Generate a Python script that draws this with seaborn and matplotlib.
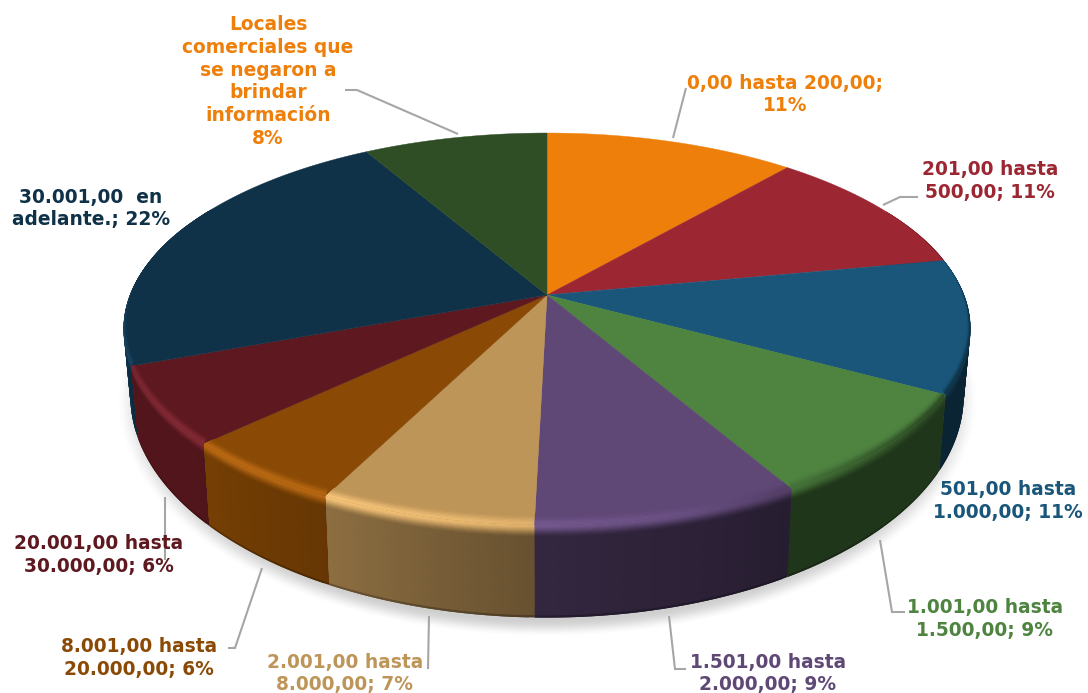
import numpy as np
import matplotlib
matplotlib.use('Agg')
import matplotlib.pyplot as plt
from matplotlib.collections import PolyCollection
from matplotlib.patches import Polygon
import seaborn as sns

categorias = ['0,00 hasta 200,00;\n11%',
              '201,00 hasta\n500,00; 11%',
              '501,00 hasta\n1.000,00; 11%',
              '1.001,00 hasta\n1.500,00; 9%',
              '1.501,00 hasta\n2.000,00; 9%',
              '2.001,00 hasta\n8.000,00; 7%',
              '8.001,00 hasta\n20.000,00; 6%',
              '20.001,00 hasta\n30.000,00; 6%',
              '30.001,00  en\nadelante.; 22%',
              'Locales\ncomerciales que\nse negaron a\nbrindar\ninformación\n8%']
valores = [11.3, 10.7, 11.0, 8.7, 8.7, 7.0, 5.5, 6.4, 22.4, 8.3]
colores = ['#EE7F0A', '#9C2733', '#1A567A', '#4E8340', '#5F4776',
           '#BE9558', '#8A4A05', '#5E1820', '#0F3248', '#2F4E25']
colores_texto = colores[:9] + ['#EE7F0A']

# posicion de cada etiqueta y de su linea guia (en pixeles)
pos_texto = [(785, 94.5), (990, 181), (1008, 501), (985, 619), (768, 673.5),
             (345, 673.5), (139, 658), (99, 555), (91, 208.5), (268, 81.5)]
guias = [[(673, 138), (686, 88)],
         [(883, 205), (900, 197), (918, 197)],
         [],
         [(880, 540), (892, 612), (905, 612)],
         [(669, 616), (675, 669), (686, 669)],
         [(429, 616), (428, 669)],
         [(262, 568), (235, 648), (228, 648)],
         [(164.5, 497), (164.5, 560)],
         [],
         [(458, 134), (357, 90), (345, 90)]]

CX, CY = 547, 295
R, A, K = 417, 190, 0.173

sns.set_theme(style='white')
plt.rcParams['font.family'] = ['DejaVu Sans']
paleta = sns.color_palette(colores)


def arriba(th, r=1.0):
    d = 1 + K * r * np.cos(th)
    return CX + R * r * np.sin(th) / d, CY - A * r * np.cos(th) / d


def abajo(th):
    x, y = arriba(th)
    dy = y - CY
    return CX + 0.984 * (x - CX), y + 63 + 0.13 * dy


ang_g = np.radians([62, 90, 270, 298])
val_g = [0, 1, 1, 0]


def borde(th, u):
    # u<0: bisel sobre la cara superior, u>=0: bajando por la pared
    if u < 0:
        u = u * np.interp(th, ang_g, val_g)
    x0, y0 = arriba(th, 1 + min(u, 0) * 0.12)
    x1, y1 = abajo(th)
    return x0 + u * (x1 - x0), y0 + u * (y1 - y0)


def tiras(i, perfil):
    # cuadros solapados, de abajo hacia arriba, para que no se vean costuras
    a0, a1 = limites[i], limites[i + 1]
    n = max(2, int(np.degrees(a1 - a0) * 1.5))
    tt = np.linspace(a0, a1, n + 1)
    polys, cols = [], []
    for k in range(len(perfil) - 2, -1, -1):
        u0 = perfil[max(k - 1, 0)]
        u1 = perfil[k + 1]
        um = (perfil[k] + perfil[k + 1]) / 2
        for j in range(n):
            th0, th1 = tt[j], tt[min(j + 2, n)]
            if np.degrees(tt[j + 1]) < 62 or np.degrees(th0) > 298:
                continue
            polys.append([borde(th0, u0), borde(th1, u0), borde(th1, u1), borde(th0, u1)])
            cols.append(np.clip(color_rim(i, (tt[j] + tt[j + 1]) / 2, um), 0, 1))
    return polys, cols


ang_f = np.radians([60, 95, 150, 181, 208, 230, 252, 262, 300])
fac_f = [0.40, 0.42, 0.41, 0.54, 0.75, 0.87, 0.88, 1.15, 1.15]
ang_o = np.radians([62, 85, 125, 165])
osc_o = [0.0, 0.75, 0.75, 0.0]


def color_rim(i, th, u):
    base = np.array(paleta[i])
    pared = base * np.interp(th, ang_f, fac_f)
    # brillo mas fuerte abajo a la izquierda
    luz = max(0.0, np.cos(th - np.radians(222))) ** 2
    brillo = base * (1 + 0.26 * luz) + 0.05 * luz
    w = np.interp(th, ang_o, osc_o)
    arista = brillo * (1 - w) + pared * w
    if u < 0:
        t = (u + 0.08) / 0.08
        return base + (arista - base) * t * t * (3 - 2 * t)
    if u < 0.14:
        t = u / 0.14
        return arista + (pared - arista) * t * t * (3 - 2 * t)
    if u > 0.975:
        return pared * 0.75
    return pared


fig = plt.figure(figsize=(10.88, 6.93), dpi=100)
ax = fig.add_axes([0, 0, 1, 1])

limites = np.cumsum([0] + valores) / np.sum(valores) * 2 * np.pi

# sombra difusa
gx, gy = np.meshgrid(np.arange(100, 1000), np.arange(300, 660))
rho = np.sqrt(((gx - 547) / 432) ** 2 + ((gy - 400) / 237) ** 2)
sombra = np.zeros(gx.shape + (4,))
s = np.clip((1.0 - rho) / 0.075, 0, 1)
sombra[..., 3] = 0.19 * s * s * (3 - 2 * s)
ax.imshow(sombra, extent=(100, 1000, 660, 300), aspect='auto', zorder=0, interpolation='bilinear')
ax.set_xlim(0, 1088)
ax.set_ylim(693, 0)
ax.axis('off')

perfil_pared = list(np.linspace(0, 0.14, 15)) + [0.3, 0.5, 0.7, 0.9, 0.975, 1.0]
perfil_bisel = list(np.linspace(-0.08, 0, 9))

# paredes de atras hacia adelante
orden = np.argsort([abs((limites[i] + limites[i + 1]) / 2 - np.pi) for i in range(len(valores))])[::-1]
for i in orden:
    polys, cols = tiras(i, perfil_pared)
    if polys:
        ax.add_collection(PolyCollection(polys, facecolors=cols, edgecolors='none', zorder=1))

# cara superior
for i in range(len(valores)):
    tt = np.linspace(limites[i], limites[i + 1], 80)
    x, y = arriba(tt)
    ax.fill(np.r_[CX, x], np.r_[CY, y], color=paleta[i], lw=0.3, ec=paleta[i], zorder=2)

# bisel encima de la cara, recortado a su porcion
for i in range(len(valores)):
    polys, cols = tiras(i, perfil_bisel)
    if polys:
        tt = np.linspace(limites[i], limites[i + 1], 80)
        x, y = arriba(tt, 1.04)
        recorte = Polygon(np.c_[np.r_[CX, x], np.r_[CY, y]], transform=ax.transData)
        col = PolyCollection(polys, facecolors=cols, edgecolors='none', zorder=3)
        ax.add_collection(col)
        col.set_clip_path(recorte)

# lineas guia
for g in guias:
    if g:
        ax.plot([p[0] for p in g], [p[1] for p in g], color='#A6A6A6', lw=1.5, zorder=4,
                solid_joinstyle='miter', solid_capstyle='butt')

# etiquetas
for txt, (x, y), c in zip(categorias, pos_texto, colores_texto):
    ax.text(x, y, txt, ha='center', va='center', color=c, fontsize=13.4, fontweight='bold',
            linespacing=1.265, zorder=5)

fig.savefig('out.png', dpi=100)
